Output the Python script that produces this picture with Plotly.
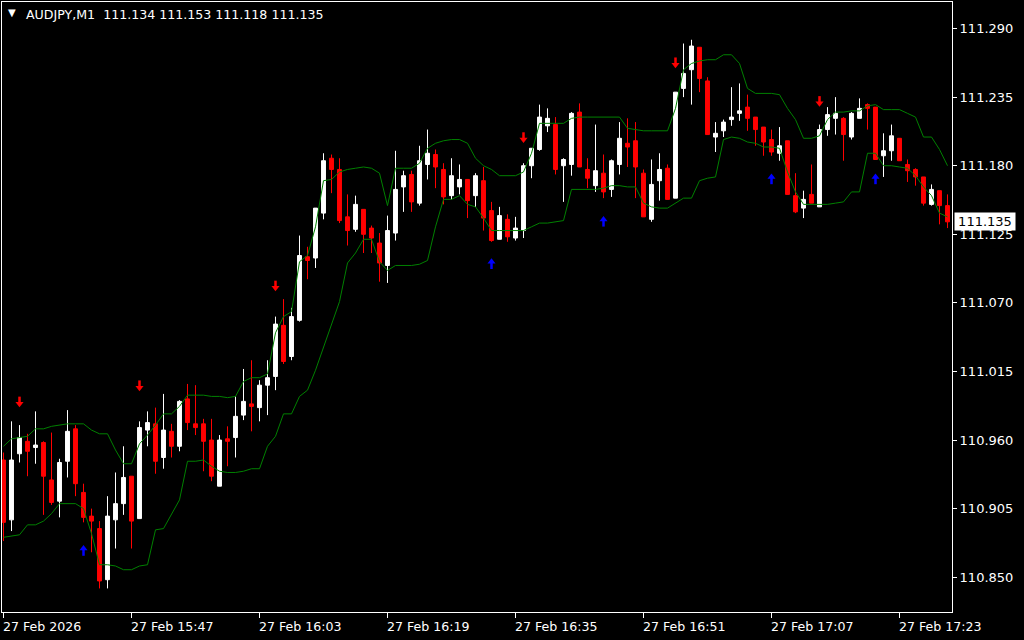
import plotly.graph_objects as go

# ---------------- data ----------------
tick_index = [0, 16, 32, 48, 64, 80, 96, 112]
time_labels = ["27 Feb 2026", "27 Feb 15:47", "27 Feb 16:03", "27 Feb 16:19",
               "27 Feb 16:35", "27 Feb 16:51", "27 Feb 17:07", "27 Feb 17:23"]

price_ticks = [111.290, 111.235, 111.180, 111.125, 111.070, 111.015, 110.960, 110.905, 110.850]

opens = [110.944, 110.896, 110.949, 110.959, 110.954, 110.958, 110.928, 110.911, 110.943, 110.969,
         110.918, 110.899, 110.889, 110.848, 110.896, 110.909, 110.931, 110.897, 110.968, 110.973,
         110.946, 110.967, 110.955, 110.993, 110.973, 110.973, 110.960, 110.923, 110.961, 110.962,
         110.980, 110.989, 110.986, 111.004, 111.011, 111.052, 111.027, 111.056, 111.107, 111.106,
         111.142, 111.186, 111.177, 111.139, 111.129, 111.145, 111.130, 111.118, 111.100, 111.126,
         111.163, 111.173, 111.150, 111.181, 111.189, 111.177, 111.156, 111.163, 111.169, 111.156,
         111.168, 111.144, 111.121, 111.137, 111.122, 111.128, 111.180, 111.193, 111.212, 111.213,
         111.180, 111.181, 111.223, 111.177, 111.164, 111.174, 111.161, 111.181, 111.198, 111.200,
         111.174, 111.137, 111.168, 111.178, 111.154, 111.242, 111.257, 111.275, 111.248, 111.203,
         111.208, 111.217, 111.222, 111.227, 111.219, 111.211, 111.201, 111.190, 111.200, 111.156,
         111.146, 111.157, 111.147, 111.209, 111.218, 111.218, 111.203, 111.218, 111.229, 111.227,
         111.188, 111.192, 111.202, 111.181, 111.177, 111.171, 111.149, 111.160, 111.148]
highs = [110.950, 110.975, 110.972, 110.965, 110.983, 110.959, 110.966, 110.945, 110.984, 110.972,
         110.925, 110.905, 110.895, 110.915, 110.934, 110.955, 110.931, 110.975, 110.983, 110.986,
         110.997, 110.973, 110.992, 111.005, 111.004, 110.977, 110.977, 110.964, 110.971, 110.995,
         111.017, 111.024, 111.008, 111.024, 111.059, 111.073, 111.066, 111.124, 111.115, 111.146,
         111.190, 111.189, 111.186, 111.157, 111.156, 111.145, 111.132, 111.126, 111.140, 111.192,
         111.176, 111.176, 111.196, 111.209, 111.193, 111.182, 111.186, 111.181, 111.169, 111.174,
         111.179, 111.151, 111.147, 111.141, 111.139, 111.182, 111.194, 111.229, 111.226, 111.219,
         111.186, 111.223, 111.230, 111.186, 111.213, 111.189, 111.185, 111.215, 111.218, 111.215,
         111.177, 111.185, 111.190, 111.181, 111.239, 111.278, 111.281, 111.275, 111.251, 111.215,
         111.217, 111.243, 111.246, 111.237, 111.219, 111.211, 111.209, 111.211, 111.200, 111.174,
         111.160, 111.181, 111.213, 111.227, 111.235, 111.219, 111.223, 111.234, 111.230, 111.227,
         111.206, 111.213, 111.202, 111.185, 111.178, 111.171, 111.165, 111.160, 111.157]
lows = [110.879, 110.887, 110.942, 110.931, 110.941, 110.900, 110.908, 110.898, 110.930, 110.915,
        110.894, 110.870, 110.841, 110.841, 110.873, 110.900, 110.873, 110.897, 110.955, 110.933,
        110.937, 110.946, 110.951, 110.968, 110.964, 110.935, 110.927, 110.923, 110.939, 110.946,
        110.976, 110.967, 110.975, 110.980, 111.000, 111.021, 111.024, 111.055, 111.089, 111.098,
        111.137, 111.158, 111.134, 111.116, 111.127, 111.110, 111.110, 111.087, 111.086, 111.120,
        111.143, 111.143, 111.148, 111.169, 111.162, 111.149, 111.153, 111.157, 111.138, 111.147,
        111.128, 111.119, 111.121, 111.119, 111.120, 111.122, 111.170, 111.192, 111.207, 111.173,
        111.151, 111.172, 111.179, 111.162, 111.159, 111.154, 111.155, 111.173, 111.179, 111.154,
        111.139, 111.135, 111.152, 111.153, 111.154, 111.235, 111.229, 111.239, 111.205, 111.191,
        111.203, 111.212, 111.216, 111.208, 111.196, 111.188, 111.188, 111.184, 111.157, 111.142,
        111.138, 111.150, 111.147, 111.204, 111.205, 111.184, 111.201, 111.218, 111.209, 111.185,
        111.171, 111.184, 111.184, 111.167, 111.164, 111.148, 111.148, 111.133, 111.130]
closes = [110.894, 110.944, 110.962, 110.951, 110.956, 110.931, 110.910, 110.942, 110.967, 110.925,
          110.898, 110.895, 110.847, 110.899, 110.909, 110.930, 110.895, 110.970, 110.974, 110.943,
          110.968, 110.955, 110.991, 110.974, 110.970, 110.959, 110.931, 110.960, 110.959, 110.979,
          110.991, 110.987, 111.004, 111.010, 111.053, 111.023, 111.059, 111.108, 111.104, 111.146,
          111.184, 111.177, 111.136, 111.128, 111.149, 111.125, 111.122, 111.102, 111.128, 111.161,
          111.172, 111.151, 111.184, 111.190, 111.179, 111.155, 111.172, 111.169, 111.152, 111.172,
          111.138, 111.120, 111.140, 111.123, 111.130, 111.180, 111.194, 111.219, 111.218, 111.177,
          111.185, 111.222, 111.179, 111.170, 111.176, 111.159, 111.184, 111.202, 111.195, 111.179,
          111.139, 111.165, 111.177, 111.153, 111.239, 111.254, 111.276, 111.250, 111.205, 111.206,
          111.215, 111.219, 111.224, 111.218, 111.209, 111.199, 111.191, 111.196, 111.157, 111.143,
          111.153, 111.150, 111.209, 111.221, 111.222, 111.205, 111.222, 111.226, 111.226, 111.185,
          111.192, 111.204, 111.184, 111.176, 111.171, 111.150, 111.161, 111.148, 111.135]

upper_band = [110.955, 110.961, 110.962, 110.963, 110.969, 110.969, 110.971, 110.972, 110.973, 110.973,
              110.973, 110.968, 110.965, 110.965, 110.952, 110.941, 110.941, 110.957, 110.964, 110.972,
              110.981, 110.981, 110.987, 110.996, 110.996, 110.996, 110.995, 110.995, 110.994, 110.995,
              111.007, 111.010, 111.010, 111.013, 111.046, 111.059, 111.063, 111.103, 111.108, 111.131,
              111.168, 111.169, 111.175, 111.177, 111.178, 111.179, 111.178, 111.174, 111.148, 111.178,
              111.178, 111.178, 111.182, 111.194, 111.198, 111.200, 111.201, 111.201, 111.198, 111.186,
              111.180, 111.177, 111.172, 111.172, 111.172, 111.175, 111.190, 111.214, 111.214, 111.214,
              111.214, 111.218, 111.219, 111.219, 111.219, 111.219, 111.219, 111.219, 111.210, 111.209,
              111.208, 111.208, 111.208, 111.208, 111.226, 111.257, 111.262, 111.264, 111.265, 111.265,
              111.269, 111.269, 111.262, 111.242, 111.238, 111.238, 111.238, 111.237, 111.226, 111.217,
              111.202, 111.202, 111.204, 111.217, 111.223, 111.223, 111.224, 111.224, 111.228, 111.229,
              111.225, 111.225, 111.225, 111.222, 111.219, 111.203, 111.203, 111.193, 111.180]
lower_band = [110.882, 110.883, 110.884, 110.892, 110.892, 110.895, 110.901, 110.909, 110.909, 110.909,
              110.905, 110.885, 110.860, 110.860, 110.859, 110.856, 110.856, 110.859, 110.860, 110.888,
              110.889, 110.900, 110.912, 110.943, 110.943, 110.944, 110.939, 110.935, 110.934, 110.934,
              110.935, 110.937, 110.937, 110.955, 110.963, 110.981, 110.981, 110.995, 111.000, 111.016,
              111.034, 111.052, 111.071, 111.102, 111.110, 111.121, 111.121, 111.103, 111.096, 111.100,
              111.100, 111.100, 111.101, 111.104, 111.131, 111.153, 111.153, 111.156, 111.149, 111.147,
              111.138, 111.128, 111.128, 111.128, 111.128, 111.128, 111.131, 111.134, 111.134, 111.135,
              111.136, 111.161, 111.161, 111.161, 111.161, 111.162, 111.164, 111.164, 111.163, 111.163,
              111.150, 111.147, 111.146, 111.146, 111.150, 111.154, 111.154, 111.168, 111.170, 111.171,
              111.201, 111.203, 111.202, 111.199, 111.198, 111.195, 111.195, 111.194, 111.175, 111.159,
              111.149, 111.149, 111.149, 111.149, 111.150, 111.151, 111.159, 111.159, 111.190, 111.190,
              111.180, 111.180, 111.179, 111.178, 111.172, 111.163, 111.156, 111.142, 111.139]

sell_idx = [2, 17, 34, 65, 84, 102]
sell_price = [110.990, 111.003, 111.083, 111.202, 111.262, 111.231]
buy_idx = [10, 61, 75, 96, 109]
buy_price = [110.872, 111.102, 111.136, 111.170, 111.170]

title_text = "AUDJPY,M1\u00a0 111.134 111.153 111.118 111.135"
last_price = 111.135

# ---------------- figure ----------------
x = list(range(len(opens)))
FONT = "DejaVu Sans"
Y_RANGE = [110.8221, 111.3113]
PLOT_H = 610
px = (Y_RANGE[1] - Y_RANGE[0]) / PLOT_H   # price per screen pixel

fig = go.Figure()
fig.add_trace(go.Candlestick(
    x=x, open=opens, high=highs, low=lows, close=closes,
    increasing=dict(line=dict(color="#ffffff", width=1), fillcolor="#ffffff"),
    decreasing=dict(line=dict(color="#ff0000", width=1), fillcolor="#ff0000"),
    whiskerwidth=0, hoverinfo="skip"))
fig.add_trace(go.Scatter(x=x, y=upper_band, mode="lines",
                         line=dict(color="#008000", width=1), hoverinfo="skip"))
fig.add_trace(go.Scatter(x=x, y=lower_band, mode="lines",
                         line=dict(color="#008000", width=1), hoverinfo="skip"))

# arrows: shaft + head
def add_arrows(idx, prices, color, down):
    sgn = 1 if down else -1
    fig.add_trace(go.Scatter(x=idx, y=[p + sgn * 2.5 * px for p in prices], mode="markers",
                             marker=dict(symbol="line-ns", size=5,
                                         line=dict(color=color, width=2.5)),
                             hoverinfo="skip"))
    fig.add_trace(go.Scatter(x=idx, y=[p - sgn * 1.2 * px for p in prices], mode="markers",
                             marker=dict(symbol="triangle-down" if down else "triangle-up",
                                         size=7, color=color, line=dict(width=0)),
                             hoverinfo="skip"))

add_arrows(sell_idx, sell_price, "#ff0000", True)
add_arrows(buy_idx, buy_price, "#0000ff", False)

annotations = []
for xi, lab in zip(tick_index, time_labels):
    annotations.append(dict(x=xi, xref="x", y=-0.023, yref="paper", text=lab,
                            xanchor="left", yanchor="middle", showarrow=False,
                            xshift=-3, font=dict(family=FONT, size=12.6, color="#ffffff")))
annotations.append(dict(x=0.0232, xref="paper", y=0.9803, yref="paper", text=title_text,
                        xanchor="left", yanchor="middle", showarrow=False,
                        font=dict(family=FONT, size=12.6, color="#ffffff")))
annotations.append(dict(x=0.0105, xref="paper", y=0.9835, yref="paper", text="▼",
                        xanchor="center", yanchor="middle", showarrow=False,
                        font=dict(family=FONT, size=10, color="#ffffff")))
annotations.append(dict(x=1.0021, xref="paper", y=last_price, yref="y", text=f"{last_price:.3f}",
                        xanchor="left", yanchor="middle", showarrow=False, bgcolor="#ffffff",
                        width=60, height=17, borderpad=0,
                        font=dict(family=FONT, size=13, color="#000000")))

fig.update_layout(
    width=1024, height=640, autosize=False,
    margin=dict(l=2, r=72, t=2, b=28),
    paper_bgcolor="#000000", plot_bgcolor="#000000",
    showlegend=False,
    annotations=annotations,
    xaxis=dict(range=[-0.1875, 118.5625], rangeslider=dict(visible=False),
               showgrid=False, zeroline=False, showline=True, mirror=True,
               linecolor="#ffffff", linewidth=1, ticks="outside", tickvals=tick_index,
               ticklen=5, tickcolor="#ffffff", showticklabels=False),
    yaxis=dict(side="right", range=Y_RANGE, showgrid=False, zeroline=False,
               showline=True, mirror=True, linecolor="#ffffff", linewidth=1,
               ticks="outside", ticklen=4, tickcolor="#ffffff",
               tickvals=price_ticks, ticktext=[f"{p:.3f}" for p in price_ticks],
               tickfont=dict(family=FONT, size=13, color="#ffffff")),
)

fig.write_html("out.html", config={"displayModeBar": False},
               post_script="document.body.style.margin='0';document.body.style.background='#000';")
